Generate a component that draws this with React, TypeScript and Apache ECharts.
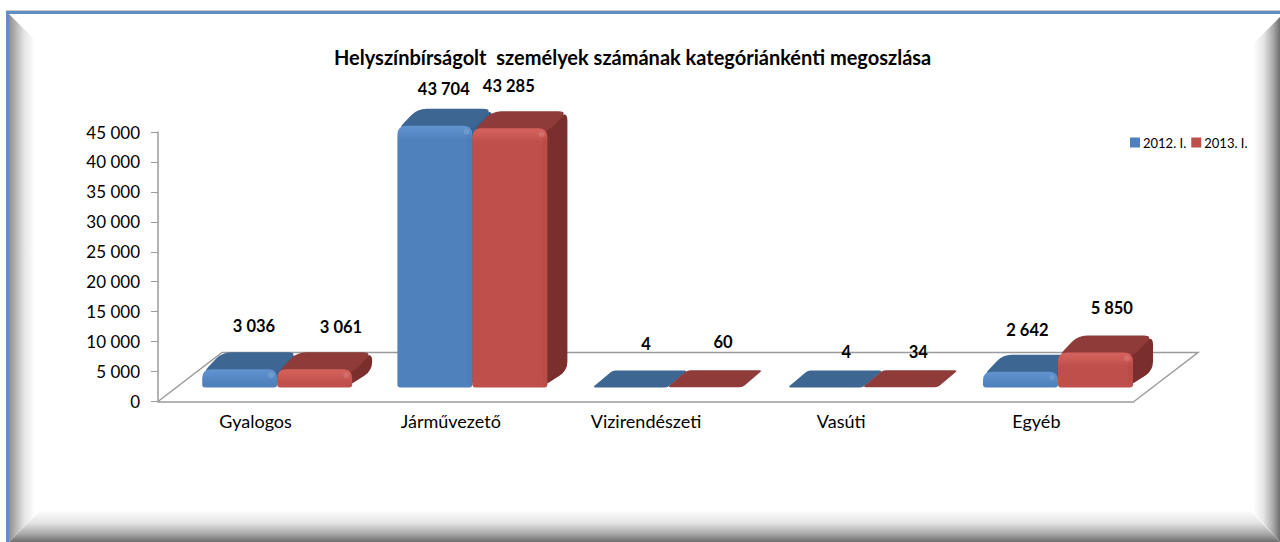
import React, { useEffect, useRef } from "react";
import * as echarts from "echarts";

const categories = ["Gyalogos", "Járművezető", "Vizirendészeti", "Vasúti", "Egyéb"];
const series2012 = [3036, 43704, 4, 4, 2642];
const series2013 = [3061, 43285, 60, 34, 5850];
const yTicksMax = 45000;
const yTicksStep = 5000;
const title = "Helyszínbírságolt  személyek számának kategóriánkénti megoszlása";

// hand-placed data label offsets (from band centre x, bar top y), as in the reference
const labelOffsets2012 = [[-1.6, -43], [-7, -37], [0, -43], [5, -35], [-9, -42]];
const labelOffsets2013 = [[85.4, -42], [58, -42], [77, -45], [77, -35], [75.4, -44.5]];

const FONT = "Lato, Carlito, 'Open Sans', sans-serif";
const BAR_W = 75;
const DX = 20;
const DY = 17;
const BASE_DX = 21.6;
const BASE_DY = 14;
const fmt = (v: number) => String(v).replace(/\B(?=(\d{3})+$)/g, " ");

function roundedPath(pts: number[][], r: number) {
  const n = pts.length;
  let d = "";
  for (let i = 0; i < n; i++) {
    const p = pts[i];
    const a = pts[(i + n - 1) % n];
    const b = pts[(i + 1) % n];
    const la = Math.hypot(a[0] - p[0], a[1] - p[1]) || 1;
    const lb = Math.hypot(b[0] - p[0], b[1] - p[1]) || 1;
    const ra = Math.min(r, la / 2);
    const rb = Math.min(r, lb / 2);
    const s = [p[0] + ((a[0] - p[0]) * ra) / la, p[1] + ((a[1] - p[1]) * ra) / la];
    const e = [p[0] + ((b[0] - p[0]) * rb) / lb, p[1] + ((b[1] - p[1]) * rb) / lb];
    d += `${i === 0 ? "M" : "L"}${s[0]} ${s[1]}Q${p[0]} ${p[1]} ${e[0]} ${e[1]}`;
  }
  return d + "Z";
}

// front face with large top corners and small bottom corners
function frontPath(x0: number, x1: number, yT: number, yB: number, rT: number, rB: number) {
  return (
    `M${x0 + rT} ${yT}L${x1 - rT} ${yT}Q${x1} ${yT} ${x1} ${yT + rT}` +
    `L${x1} ${yB - rB}Q${x1} ${yB} ${x1 - rB} ${yB}L${x0 + rB} ${yB}Q${x0} ${yB} ${x0} ${yB - rB}` +
    `L${x0} ${yT + rT}Q${x0} ${yT} ${x0 + rT} ${yT}Z`
  );
}

type Pal = { front: string; light: string; edge: string; top: string; side: string };
const blue: Pal = { front: "#4f81bd", light: "#5f92cf", edge: "#4474ad", top: "#3d6692", side: "#37608c" };
const red: Pal = { front: "#bf4f4b", light: "#d4605b", edge: "#ad4541", top: "#8f3b39", side: "#7b2f2d" };

function makeBarRender(slot: number, pal: Pal, offsets: number[][]) {
  return (params: any, api: any) => {
    const idx = api.value(0);
    const val = api.value(1);
    const top = api.coord([idx, val]);
    const zero = api.coord([idx, 0]);
    const x0 = zero[0] + BASE_DX + (slot - 1) * BAR_W;
    const x1 = x0 + BAR_W;
    const yBase = zero[1] - BASE_DY;
    const yTop = top[1] - BASE_DY;
    const h = yBase - yTop;
    const rT = Math.min(9, Math.max(h * 0.55, 2));
    const children: any[] = [];
    if (h > 2) {
      children.push({
        type: "path",
        shape: {
          pathData: roundedPath(
            [[x1 - 6, yTop], [x1 + DX, yTop - DY], [x1 + DX, yBase - DY], [x1 - 6, yBase]],
            rT
          ),
        },
        style: { fill: pal.side },
      });
    }
    children.push({
      type: "path",
      shape: {
        pathData: roundedPath(
          [[x0, yTop + (h > 2 ? 4 : 0)], [x1, yTop + (h > 2 ? 4 : 0)], [x1 + DX, yTop - DY], [x0 + DX, yTop - DY]],
          h > 2 ? rT : 3
        ),
      },
      style: { fill: pal.top },
    });
    if (h > 2) {
      const a = Math.min(0.1, 2 / h);
      const b = Math.min(0.85, 14 / h);
      children.push({
        type: "path",
        shape: { pathData: frontPath(x0, x1, yTop, yBase, rT, 3) },
        style: {
          fill: new echarts.graphic.LinearGradient(0, 0, 0, 1, [
            { offset: 0, color: pal.light },
            { offset: a, color: pal.light },
            { offset: b, color: pal.front },
            { offset: 1, color: pal.front },
          ]),
        },
      });
      children.push({
        type: "circle",
        shape: { cx: x1 - 6, cy: yTop + 6, r: Math.min(3, h / 6) },
        style: { fill: "#ffffff", opacity: 0.12 },
      });
      children.push({
        type: "path",
        shape: { pathData: roundedPath([[x1 - 5, yTop + 9], [x1, yTop + 9], [x1, yBase - 3], [x1 - 5, yBase - 3]], 2) },
        style: { fill: pal.edge, opacity: h > 20 ? 0.25 : 0 },
      });
    }
    const off = offsets[idx];
    children.push({
      type: "text",
      style: {
        text: fmt(val),
        x: zero[0] + off[0],
        y: yTop + off[1],
        align: "center",
        verticalAlign: "middle",
        fontFamily: FONT,
        fontSize: 16.5,
        fontWeight: "bold",
        fill: "#000",
      },
    });
    return { type: "group", children };
  };
}

function floorRender(params: any, api: any) {
  const c = params.coordSys;
  const yB = c.y + c.height;
  const xL = c.x;
  const xR = c.x + c.width;
  const fx = 64;
  const fy = 49;
  return {
    type: "polyline",
    shape: { points: [[xL, yB], [xL + fx, yB - fy], [xR + fx, yB - fy], [xR, yB]] },
    style: { fill: "none", stroke: "#9b9b9b", lineWidth: 1.5 },
  };
}

function bevel(points: number[][], dir: number[], stops: [number, string][]) {
  return {
    type: "polygon",
    z: -10,
    shape: { points },
    style: {
      fill: new echarts.graphic.LinearGradient(
        dir[0], dir[1], dir[2], dir[3],
        stops.map(([offset, color]) => ({ offset, color }))
      ),
    },
    silent: true,
  };
}

const leftStops: [number, string][] = [[0, "#8f8f8f"], [0.25, "#b4b4b4"], [0.6, "#e6e6e6"], [1, "#ffffff"]];
const darkStops: [number, string][] = [[0, "#ffffff"], [0.4, "#e4e4e4"], [0.75, "#a8a8a8"], [1, "#6e6e6e"]];

export default function App() {
  const ref = useRef<HTMLDivElement>(null);
  useEffect(() => {
    document.body.style.margin = "0";
    const chart = echarts.init(ref.current!, null, { renderer: "svg" });
    const dataOf = (arr: number[]) => arr.map((v, i) => [i, v]);
    chart.setOption({
      animation: false,
      backgroundColor: "#ffffff",
      title: {
        text: title,
        left: 334,
        top: 47,
        padding: 0,
        textStyle: { fontFamily: FONT, fontSize: 20, fontWeight: "bold", color: "#000" },
      },
      legend: {
        data: ["2012. I.", "2013. I."],
        left: 1130,
        top: 136,
        padding: 0,
        itemWidth: 10,
        itemHeight: 10,
        itemGap: 5,
        icon: "rect",
        textStyle: { fontFamily: FONT, fontSize: 13, color: "#000", padding: [0, 0, 0, -2] },
      },
      grid: { left: 158, top: 132, width: 976, height: 269.5 },
      xAxis: {
        type: "category",
        data: categories,
        axisTick: { show: false },
        axisLine: { lineStyle: { color: "#9b9b9b", width: 1.5 } },
        axisLabel: { fontFamily: FONT, fontSize: 18, color: "#000", margin: 10, interval: 0 },
      },
      yAxis: {
        type: "value",
        min: 0,
        max: yTicksMax,
        interval: yTicksStep,
        axisLine: { show: true, lineStyle: { color: "#9b9b9b", width: 1.5 } },
        axisTick: { show: true, length: 7, lineStyle: { color: "#9b9b9b", width: 1 } },
        splitLine: { show: false },
        axisLabel: { fontFamily: FONT, fontSize: 17, color: "#000", margin: 18, formatter: (v: number) => fmt(v) },
      },
      series: [
        { type: "custom", name: "floor", silent: true, data: [[0, 0]], renderItem: floorRender, z: 1 },
        {
          type: "custom",
          name: "2012. I.",
          itemStyle: { color: blue.front },
          encode: { x: 0, y: 1 },
          data: dataOf(series2012),
          renderItem: makeBarRender(0, blue, labelOffsets2012),
          z: 2,
        },
        {
          type: "custom",
          name: "2013. I.",
          itemStyle: { color: red.front },
          encode: { x: 0, y: 1 },
          data: dataOf(series2013),
          renderItem: makeBarRender(1, red, labelOffsets2013),
          z: 3,
        },
      ],
      graphic: {
        elements: [
          { type: "rect", z: -9, shape: { x: 6, y: 10, width: 1274, height: 1 }, style: { fill: "#c9c9c9" }, silent: true },
          { type: "rect", z: -9, shape: { x: 6, y: 11, width: 1274, height: 3 }, style: { fill: "#5f8fc6" }, silent: true },
          { type: "rect", z: -9, shape: { x: 6, y: 11, width: 3, height: 531 }, style: { fill: "#5f8fc6" }, silent: true },
          bevel([[9, 14], [35, 40], [35, 516], [9, 542]], [0, 0, 1, 0], leftStops),
          bevel([[1280, 17], [1253, 44], [1253, 512], [1280, 542]], [0, 0, 1, 0], darkStops),
          bevel([[9, 542], [41, 510], [1250, 510], [1280, 542]], [0, 0, 0, 1], darkStops),
        ],
      },
    });
    return () => chart.dispose();
  }, []);
  return <div ref={ref} style={{ width: 1280, height: 542 }} />;
}
